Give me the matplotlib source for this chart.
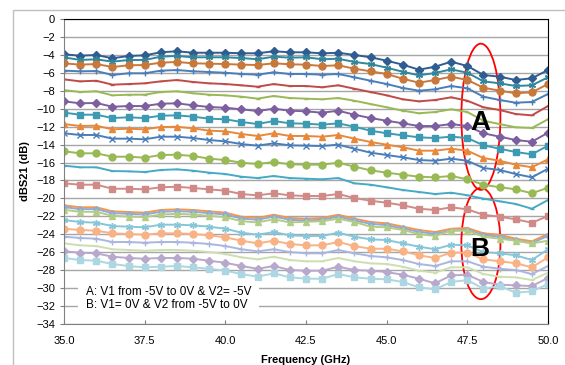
import matplotlib
matplotlib.use("Agg")
import matplotlib.pyplot as plt
from matplotlib.patches import Ellipse, Rectangle

plt.rcParams['font.family'] = ['Liberation Sans', 'DejaVu Sans']

freq = [35.0, 35.5, 36.0, 36.5, 37.0, 37.5, 38.0, 38.5, 39.0, 39.5, 40.0, 40.5,
        41.0, 41.5, 42.0, 42.5, 43.0, 43.5, 44.0, 44.5, 45.0, 45.5, 46.0, 46.5,
        47.0, 47.5, 48.0, 48.5, 49.0, 49.5, 50.0]

# group A: V1 from -5V to 0V, V2 = -5V
a1 = [-3.94,-4.09,-4.01,-4.38,-4.12,-4.05,-3.71,-3.60,-3.76,-3.76,-3.76,-3.82,-3.82,-3.60,-3.71,-3.71,
      -3.83,-3.76,-4.01,-4.27,-4.65,-5.09,-5.65,-5.32,-4.76,-5.24,-6.24,-6.43,-6.80,-6.61,-5.69]
a2 = [-4.27,-4.57,-4.49,-4.76,-4.57,-4.57,-4.20,-4.12,-4.27,-4.27,-4.27,-4.35,-4.49,-4.20,-4.31,-4.27,
      -4.49,-4.43,-4.79,-5.02,-5.43,-5.88,-6.28,-6.02,-5.61,-5.99,-6.95,-7.17,-7.47,-7.39,-6.50]
a3 = [-4.94,-5.09,-5.02,-5.35,-5.16,-5.13,-4.87,-4.79,-4.94,-4.98,-5.02,-5.09,-5.13,-4.94,-5.05,-5.09,
      -5.24,-5.16,-5.54,-5.83,-6.13,-6.66,-7.10,-6.80,-6.43,-6.80,-7.66,-7.99,-8.28,-8.17,-7.25]
a4 = [-5.76,-5.83,-5.80,-6.24,-6.05,-6.05,-5.76,-5.69,-5.83,-5.91,-5.99,-6.13,-6.21,-5.94,-6.13,-6.13,
      -6.21,-6.13,-6.50,-6.88,-7.25,-7.69,-7.99,-7.84,-7.47,-7.73,-8.66,-9.03,-9.33,-9.25,-8.36]
a5 = [-6.73,-6.95,-6.88,-7.32,-7.25,-7.17,-6.95,-6.80,-7.02,-7.17,-7.25,-7.39,-7.55,-7.25,-7.47,-7.47,
      -7.61,-7.39,-7.77,-8.14,-8.51,-8.95,-9.18,-9.03,-8.73,-9.11,-9.84,-10.14,-10.59,-10.74,-9.70]
a6 = [-7.92,-8.14,-8.06,-8.51,-8.44,-8.44,-8.14,-8.06,-8.28,-8.44,-8.51,-8.66,-8.88,-8.58,-8.81,-8.88,
      -8.95,-8.81,-9.11,-9.48,-9.84,-10.22,-10.51,-10.37,-10.07,-10.37,-11.34,-11.71,-12.07,-12.15,-11.18]
a7 = [-9.18,-9.40,-9.36,-9.78,-9.70,-9.70,-9.44,-9.40,-9.62,-9.81,-9.89,-10.07,-10.26,-10.00,-10.22,-10.29,
      -10.45,-10.22,-10.67,-11.04,-11.34,-11.63,-11.93,-11.93,-11.71,-11.93,-12.74,-13.12,-13.49,-13.68,-12.68]
a8 = [-10.44,-10.67,-10.67,-11.04,-10.96,-11.04,-10.78,-10.74,-10.89,-11.11,-11.18,-11.48,-11.71,-11.37,-11.63,-11.67,
      -11.78,-11.63,-12.01,-12.45,-12.74,-12.97,-13.19,-13.27,-13.12,-13.27,-14.08,-14.46,-14.83,-15.08,-14.12]
a9 = [-11.71,-11.93,-11.89,-12.30,-12.23,-12.30,-12.04,-12.01,-12.19,-12.45,-12.52,-12.82,-13.04,-12.74,-13.04,-13.04,
      -13.12,-12.93,-13.34,-13.71,-14.01,-14.30,-14.68,-14.68,-14.46,-14.68,-15.50,-15.80,-16.24,-16.53,-15.64]
a10 = [-12.74,-12.93,-12.93,-13.34,-13.34,-13.41,-13.12,-13.12,-13.27,-13.49,-13.64,-13.94,-14.12,-13.86,-14.08,-14.12,
       -14.16,-14.01,-14.46,-14.90,-15.16,-15.42,-15.72,-15.80,-15.57,-15.80,-16.61,-16.83,-17.28,-17.65,-16.69]
a11 = [-14.75,-14.97,-14.97,-15.35,-15.35,-15.46,-15.16,-15.13,-15.27,-15.57,-15.72,-16.02,-16.16,-15.94,-16.20,-16.24,
       -16.24,-16.02,-16.46,-16.87,-17.13,-17.36,-17.58,-17.65,-17.50,-17.87,-18.47,-18.76,-18.98,-19.43,-18.81]
a12 = [-16.35,-16.53,-16.53,-16.95,-16.98,-17.06,-16.83,-16.76,-16.91,-17.13,-17.28,-17.58,-17.73,-17.50,-17.73,-17.80,
       -17.87,-17.73,-18.32,-18.47,-18.76,-19.06,-19.28,-19.51,-19.36,-19.65,-20.03,-20.32,-20.62,-21.15,-20.18]
a13 = [-18.32,-18.47,-18.47,-18.92,-18.92,-18.99,-18.76,-18.70,-18.84,-18.99,-19.14,-19.51,-19.66,-19.43,-19.66,-19.73,
       -19.73,-19.51,-19.96,-20.26,-20.48,-20.77,-21.15,-21.29,-20.99,-21.22,-21.82,-22.04,-22.33,-22.71,-21.96]

# group B: V1 = 0V, V2 from -5V to 0V
b1 = [-20.77,-20.99,-20.99,-21.44,-21.52,-21.59,-21.29,-21.22,-21.29,-21.44,-21.59,-22.04,-22.18,-21.82,-22.18,-22.26,
      -22.18,-21.82,-22.26,-22.63,-22.78,-23.15,-23.52,-23.75,-23.38,-23.30,-23.89,-24.05,-24.49,-24.78,-23.97]
b2 = [-20.97,-21.19,-21.19,-21.64,-21.72,-21.79,-21.49,-21.42,-21.49,-21.64,-21.79,-22.24,-22.38,-22.02,-22.38,-22.46,
      -22.38,-22.02,-22.46,-22.83,-22.98,-23.35,-23.72,-23.95,-23.58,-23.50,-24.09,-24.25,-24.69,-24.98,-24.17]
b3 = [-21.27,-21.49,-21.49,-21.94,-22.02,-22.09,-21.79,-21.72,-21.79,-21.94,-22.09,-22.54,-22.68,-22.32,-22.68,-22.60,
      -22.55,-22.26,-22.63,-23.15,-23.22,-23.52,-23.97,-24.19,-23.60,-23.60,-24.27,-24.49,-24.72,-25.01,-24.72]
b4 = [-22.41,-22.63,-22.71,-23.08,-23.15,-23.22,-22.93,-22.93,-23.00,-23.15,-23.38,-23.82,-24.05,-23.75,-24.12,-24.19,
      -24.19,-23.82,-24.27,-24.56,-24.64,-25.01,-25.38,-25.67,-25.16,-25.23,-25.98,-26.12,-26.34,-26.87,-25.67]
b5 = [-23.38,-23.52,-23.60,-23.89,-23.97,-24.05,-23.89,-23.89,-23.97,-24.12,-24.34,-24.72,-25.01,-24.72,-25.08,-25.23,
      -25.23,-24.86,-25.31,-25.61,-25.61,-25.90,-26.34,-26.64,-26.05,-26.05,-26.79,-27.01,-27.23,-27.68,-26.57]
b6 = [-24.27,-24.41,-24.49,-24.86,-24.86,-24.94,-24.86,-24.86,-24.94,-25.08,-25.31,-25.67,-25.90,-25.67,-25.98,-26.12,
      -26.12,-25.75,-26.12,-26.42,-26.57,-26.87,-27.31,-27.54,-27.01,-27.01,-27.61,-27.84,-27.98,-28.43,-27.54]
b7 = [-25.01,-25.23,-25.31,-25.67,-25.75,-25.83,-25.75,-25.75,-25.83,-25.98,-26.20,-26.57,-26.79,-26.50,-26.87,-27.01,
      -27.01,-26.64,-27.01,-27.24,-27.31,-27.61,-28.06,-28.28,-27.68,-27.68,-28.43,-28.73,-28.80,-29.10,-28.28]
b8 = [-25.90,-26.05,-26.12,-26.50,-26.64,-26.72,-26.64,-26.64,-26.72,-26.95,-27.17,-27.54,-27.84,-27.54,-27.98,-28.06,
      -28.06,-27.61,-27.98,-28.06,-28.21,-28.51,-28.95,-29.47,-28.58,-28.51,-29.32,-29.62,-29.69,-29.77,-28.87]
b9 = [-26.64,-26.87,-26.95,-27.31,-27.54,-27.68,-27.61,-27.54,-27.68,-27.84,-28.06,-28.43,-28.73,-28.35,-28.80,-28.95,
      -28.95,-28.43,-28.80,-28.95,-29.02,-29.32,-29.91,-30.13,-29.32,-29.10,-30.07,-29.77,-30.51,-30.36,-29.54]

ast = (6, 2, 0)  # asterisk marker like Excel's
series = [
    (a1, '#2f5d91', 'D', 4),
    (a2, '#31869b', ast, 5),
    (a3, '#c8783a', 'o', 5),
    (a4, '#4a7ebb', '+', 5),
    (a5, '#be4b48', '_', 3),
    (a6, '#98b954', '_', 3),
    (a7, '#7d5fa0', 'D', 4),
    (a8, '#3c9ab2', 's', 5),
    (a9, '#e8883a', '^', 5),
    (a10, '#4a7ebb', 'x', 4),
    (a11, '#98b954', 'o', 5),
    (a12, '#46aac5', '_', 3),
    (a13, '#d08a87', 's', 5),
    (b1, '#f79646', '_', 3),
    (b2, '#8eaadb', 'D', 3),
    (b3, '#b3cc85', '^', 5),
    (b4, '#86c6d8', ast, 5),
    (b5, '#f9b284', 'o', 5),
    (b6, '#aab6de', '+', 5),
    (b7, '#cddfb0', '_', 3),
    (b8, '#b7a8cc', 'D', 4),
    (b9, '#abd6e2', 's', 5),
]

fig = plt.figure(figsize=(5.65, 3.65), dpi=100)
ax = fig.add_axes([64/565, 41/365, 484/565, 305/365])

for vals, col, mk, ms in series:
    ax.plot(freq, vals, color=col, lw=1.4, marker=mk, ms=ms,
            markeredgecolor=col, markerfacecolor=col, mew=1.0)

ax.set_xlim(35, 50)
ax.set_ylim(-34, 0)
ax.set_yticks(range(-34, 1, 2))
ax.set_xticks([35.0, 37.5, 40.0, 42.5, 45.0, 47.5, 50.0])
ax.set_xticklabels(['35.0', '37.5', '40.0', '42.5', '45.0', '47.5', '50.0'])
ax.yaxis.grid(True, color='#a6a6a6', lw=1.0)
ax.set_axisbelow(True)
ax.tick_params(axis='both', labelsize=8, length=3, color='#808080')
ax.tick_params(axis='x', direction='in', pad=9)
for s in ['top', 'right']:
    ax.spines[s].set_color('black')
for s in ['left', 'bottom']:
    ax.spines[s].set_color('#808080')

ax.set_xlabel('Frequency (GHz)', fontsize=8, fontweight='bold', labelpad=6)
ax.set_ylabel('dBS21 (dB)', fontsize=8, fontweight='bold', labelpad=4)

# red ellipses marking the two groups
ax.add_patch(Ellipse((47.92, -10.9), 1.21, 16.3, fill=False, ec='red', lw=1.3))
ax.add_patch(Ellipse((47.92, -25.03), 1.21, 12.4, fill=False, ec='red', lw=1.3))
ax.text(47.9, -11.6, 'A', fontsize=20, fontweight='bold', ha='center', va='center')
ax.text(47.9, -25.6, 'B', fontsize=19, fontweight='bold', ha='center', va='center')

# text box
ax.add_patch(Rectangle((35.43, -32.9), 5.6, 3.65, fc='white', ec='none', zorder=5))
ax.text(35.68, -30.4, 'A: V1 from -5V to 0V & V2= -5V', fontsize=8.5, va='center', zorder=6)
ax.text(35.68, -31.9, 'B: V1= 0V & V2 from -5V to 0V', fontsize=8.5, va='center', zorder=6)

# outer chart border
fig.add_artist(Rectangle((13/565, -0.1), 1.0, (365-10)/365 + 0.1, transform=fig.transFigure,
                         fill=False, ec='#bfbfbf', lw=1.0))

fig.savefig('out.png', dpi=100)
